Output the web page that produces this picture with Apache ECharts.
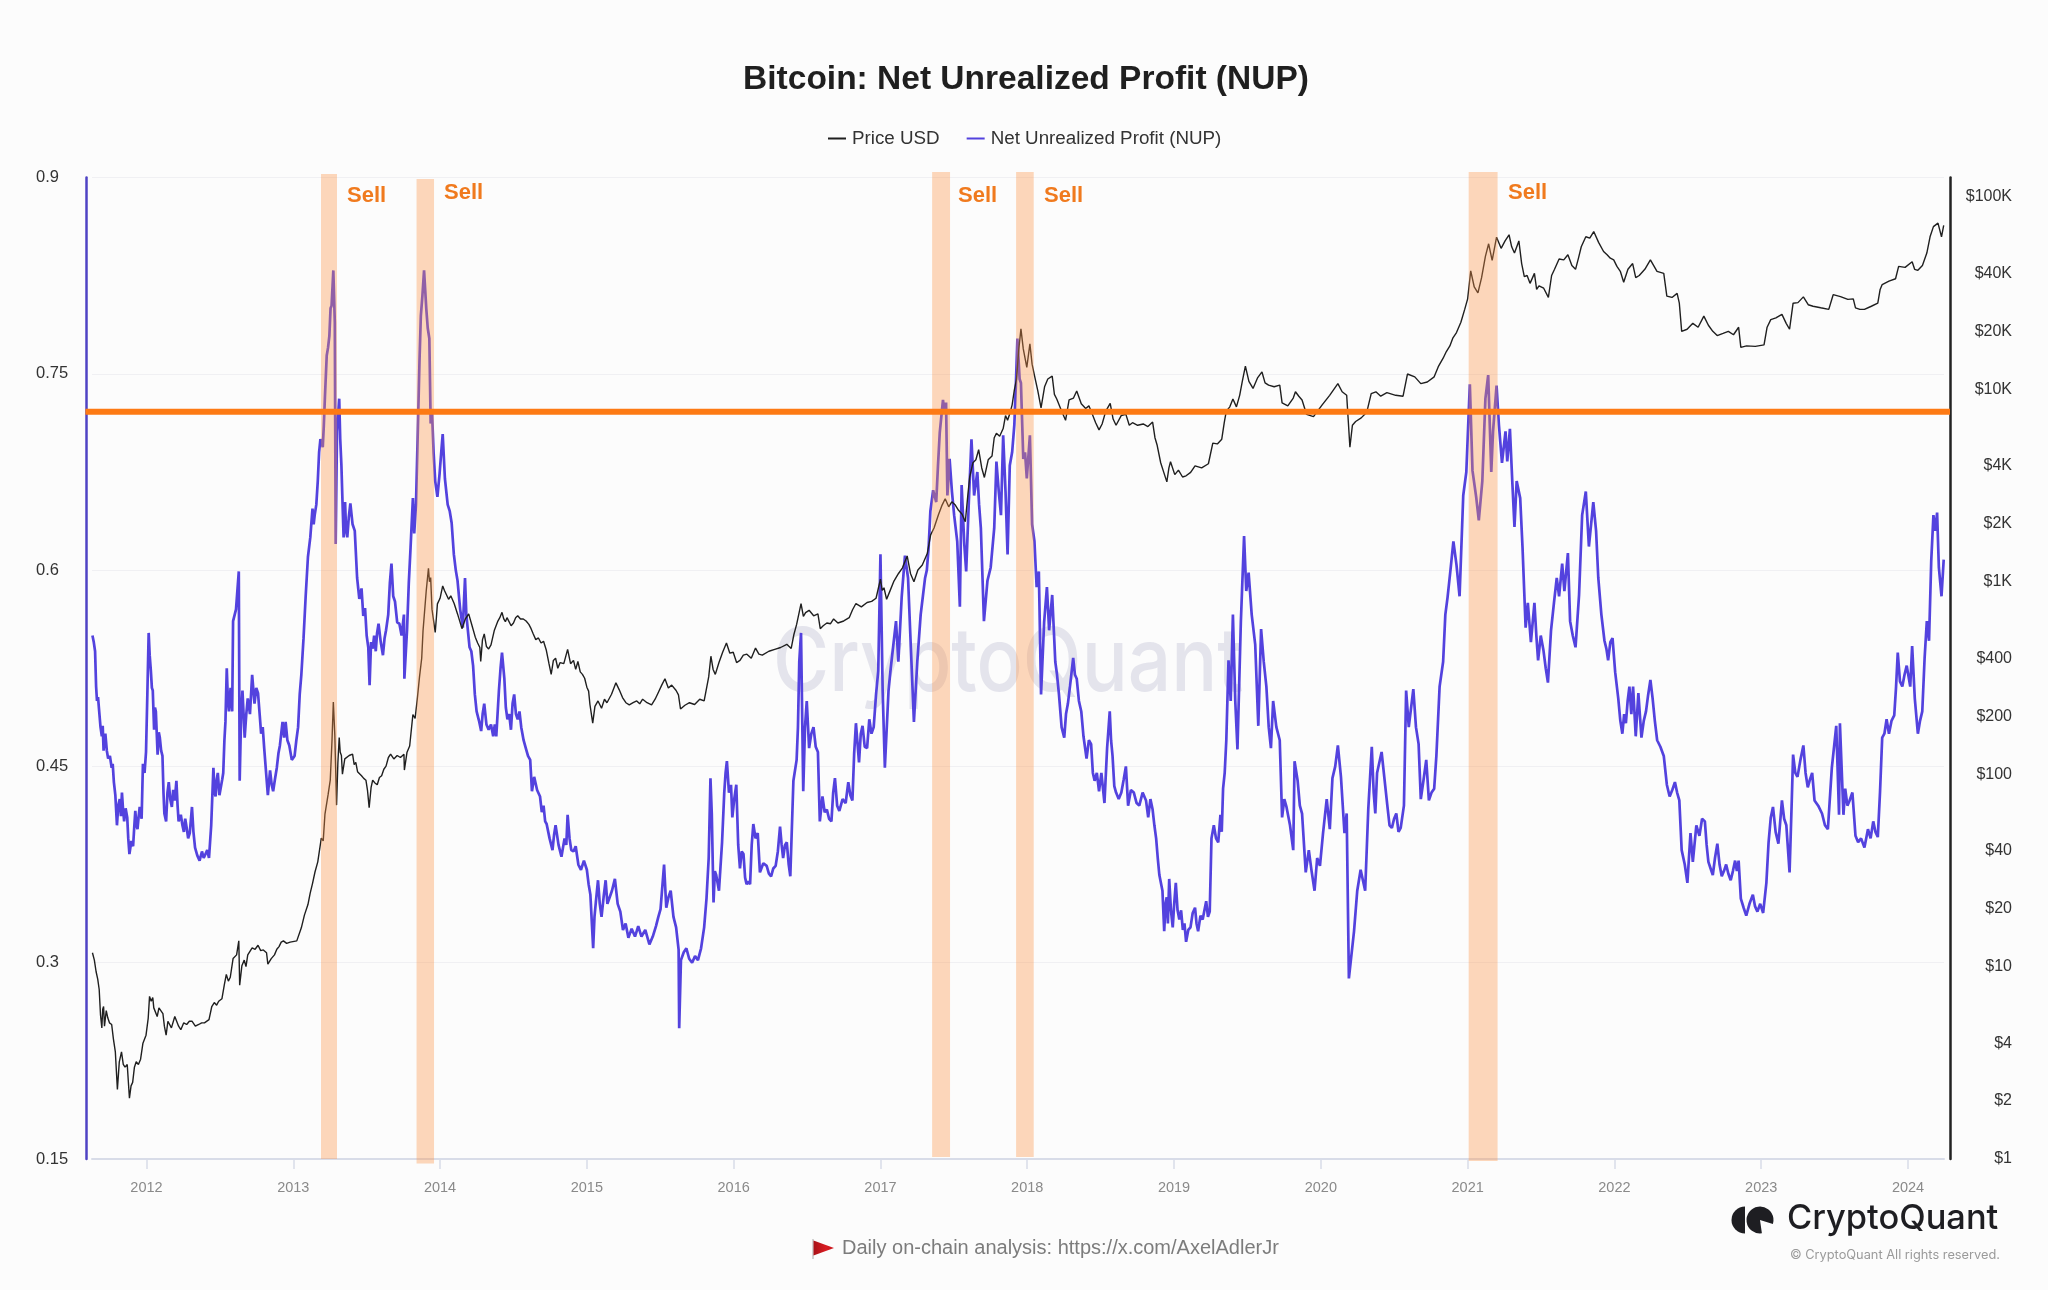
<!DOCTYPE html>
<html>
<head>
<meta charset="utf-8">
<title>Bitcoin: Net Unrealized Profit (NUP)</title>
<script src="https://cdn.jsdelivr.net/npm/echarts@6/dist/echarts.min.js"></script>
<style>
html, body { margin: 0; padding: 0; background: #fcfcfc; }
#chart { width: 2048px; height: 1290px; }
</style>
</head>
<body>
<div id="chart"></div>
<script>
// [decimal year, NUP ratio]
var nupPoints = [
[2011.632,.55],[2011.641,.545],[2011.650,.538],[2011.657,.511],[2011.663,.5],[2011.670,.503],[2011.678,.492],[2011.687,.48],[2011.696,.473],[2011.702,.481],[2011.708,.462],[2011.714,.47],[2011.720,.475],[2011.730,.462],[2011.739,.456],[2011.751,.458],[2011.763,.449],[2011.770,.452],[2011.778,.438],[2011.788,.428],[2011.799,.405],[2011.808,.42],[2011.818,.425],[2011.826,.412],[2011.833,.43],[2011.840,.418],[2011.848,.408],[2011.858,.418],[2011.869,.411],[2011.876,.395],[2011.884,.383],[2011.897,.393],[2011.909,.389],[2011.917,.404],[2011.924,.416],[2011.932,.405],[2011.939,.402],[2011.947,.412],[2011.954,.419],[2011.967,.41],[2011.976,.452],[2011.987,.445],[2011.997,.461],[2012.006,.505],[2012.015,.552],[2012.022,.535],[2012.030,.523],[2012.037,.51],[2012.043,.508],[2012.052,.478],[2012.058,.495],[2012.064,.492],[2012.076,.459],[2012.084,.476],[2012.091,.472],[2012.100,.462],[2012.109,.458],[2012.116,.43],[2012.122,.414],[2012.134,.408],[2012.143,.43],[2012.152,.438],[2012.162,.425],[2012.173,.419],[2012.182,.432],[2012.193,.424],[2012.204,.439],[2012.212,.42],[2012.219,.408],[2012.234,.413],[2012.245,.405],[2012.255,.40],[2012.264,.41],[2012.274,.403],[2012.284,.395],[2012.295,.399],[2012.310,.419],[2012.320,.4],[2012.331,.388],[2012.346,.382],[2012.362,.378],[2012.378,.385],[2012.390,.38],[2012.401,.381],[2012.414,.386],[2012.426,.38],[2012.441,.405],[2012.456,.449],[2012.464,.43],[2012.471,.427],[2012.479,.44],[2012.486,.445],[2012.497,.428],[2012.508,.427],[2012.516,.44],[2012.523,.445],[2012.531,.47],[2012.538,.484],[2012.547,.525],[2012.555,.5],[2012.562,.492],[2012.573,.51],[2012.584,.492],[2012.590,.561],[2012.610,.57],[2012.629,.599],[2012.635,.439],[2012.645,.49],[2012.654,.508],[2012.669,.472],[2012.680,.49],[2012.690,.502],[2012.705,.49],[2012.720,.52],[2012.736,.498],[2012.748,.51],[2012.760,.506],[2012.771,.49],[2012.781,.475],[2012.792,.48],[2012.802,.464],[2012.815,.445],[2012.827,.428],[2012.842,.447],[2012.853,.436],[2012.863,.431],[2012.875,.44],[2012.888,.449],[2012.899,.46],[2012.909,.466],[2012.918,.475],[2012.927,.484],[2012.938,.472],[2012.948,.484],[2012.960,.47],[2012.973,.466],[2012.990,.455],[2013.009,.458],[2013.021,.47],[2013.033,.48],[2013.044,.505],[2013.055,.52],[2013.070,.548],[2013.085,.581],[2013.100,.61],[2013.116,.625],[2013.131,.647],[2013.139,.635],[2013.146,.642],[2013.157,.65],[2013.167,.668],[2013.176,.69],[2013.185,.70],[2013.201,.694],[2013.208,.71],[2013.216,.733],[2013.228,.764],[2013.237,.77],[2013.246,.779],[2013.254,.80],[2013.261,.802],[2013.273,.829],[2013.283,.789],[2013.289,.62],[2013.298,.706],[2013.313,.731],[2013.320,.70],[2013.328,.68],[2013.336,.65],[2013.343,.625],[2013.353,.652],[2013.360,.63],[2013.368,.625],[2013.378,.64],[2013.389,.651],[2013.404,.635],[2013.419,.63],[2013.435,.594],[2013.450,.578],[2013.465,.586],[2013.477,.565],[2013.489,.571],[2013.500,.55],[2013.511,.541],[2013.520,.512],[2013.530,.545],[2013.541,.54],[2013.551,.55],[2013.562,.538],[2013.571,.552],[2013.581,.559],[2013.596,.545],[2013.611,.535],[2013.622,.548],[2013.632,.554],[2013.647,.566],[2013.658,.59],[2013.669,.605],[2013.681,.58],[2013.693,.576],[2013.708,.56],[2013.723,.559],[2013.738,.55],[2013.754,.566],[2013.757,.517],[2013.775,.554],[2013.787,.59],[2013.799,.617],[2013.815,.655],[2013.824,.628],[2013.836,.65],[2013.851,.718],[2013.860,.76],[2013.869,.794],[2013.880,.81],[2013.891,.829],[2013.906,.80],[2013.916,.785],[2013.927,.777],[2013.936,.712],[2013.945,.721],[2013.956,.69],[2013.967,.668],[2013.982,.656],[2013.997,.674],[2014.008,.69],[2014.018,.704],[2014.033,.67],[2014.052,.65],[2014.066,.645],[2014.079,.636],[2014.094,.612],[2014.107,.60],[2014.119,.592],[2014.137,.57],[2014.155,.556],[2014.170,.594],[2014.179,.566],[2014.201,.541],[2014.213,.538],[2014.225,.527],[2014.237,.505],[2014.249,.492],[2014.265,.485],[2014.280,.477],[2014.290,.49],[2014.301,.498],[2014.316,.482],[2014.331,.478],[2014.347,.482],[2014.362,.473],[2014.373,.482],[2014.383,.473],[2014.401,.508],[2014.412,.525],[2014.422,.537],[2014.438,.517],[2014.448,.495],[2014.459,.486],[2014.471,.49],[2014.483,.478],[2014.494,.498],[2014.505,.505],[2014.517,.49],[2014.529,.486],[2014.541,.492],[2014.553,.48],[2014.569,.47],[2014.584,.464],[2014.599,.458],[2014.614,.455],[2014.626,.431],[2014.641,.442],[2014.661,.432],[2014.681,.427],[2014.693,.415],[2014.705,.42],[2014.716,.408],[2014.726,.406],[2014.746,.395],[2014.766,.386],[2014.777,.398],[2014.787,.405],[2014.807,.39],[2014.827,.381],[2014.848,.395],[2014.860,.39],[2014.869,.413],[2014.882,.395],[2014.894,.386],[2014.909,.385],[2014.924,.389],[2014.942,.375],[2014.960,.371],[2014.980,.378],[2015.0,.371],[2015.012,.36],[2015.024,.352],[2015.043,.311],[2015.052,.335],[2015.061,.346],[2015.076,.363],[2015.088,.345],[2015.100,.335],[2015.114,.35],[2015.128,.363],[2015.140,.345],[2015.152,.346],[2015.171,.355],[2015.191,.364],[2015.210,.345],[2015.228,.339],[2015.246,.325],[2015.264,.33],[2015.283,.319],[2015.305,.326],[2015.328,.32],[2015.350,.328],[2015.372,.32],[2015.398,.325],[2015.426,.314],[2015.449,.32],[2015.471,.328],[2015.487,.335],[2015.502,.341],[2015.526,.375],[2015.541,.342],[2015.556,.35],[2015.571,.355],[2015.590,.335],[2015.608,.327],[2015.625,.31],[2015.629,.25],[2015.641,.302],[2015.660,.308],[2015.678,.311],[2015.697,.303],[2015.717,.30],[2015.737,.305],[2015.757,.302],[2015.778,.311],[2015.799,.327],[2015.815,.349],[2015.830,.38],[2015.842,.441],[2015.851,.414],[2015.863,.346],[2015.872,.37],[2015.881,.367],[2015.900,.355],[2015.921,.392],[2015.936,.43],[2015.945,.445],[2015.954,.454],[2015.968,.43],[2015.982,.436],[2015.991,.411],[2016.004,.425],[2016.018,.436],[2016.031,.39],[2016.043,.372],[2016.055,.385],[2016.067,.383],[2016.078,.365],[2016.088,.36],[2016.100,.362],[2016.112,.36],[2016.123,.39],[2016.134,.406],[2016.149,.395],[2016.164,.399],[2016.179,.369],[2016.202,.376],[2016.225,.374],[2016.240,.368],[2016.255,.366],[2016.270,.372],[2016.286,.374],[2016.301,.385],[2016.316,.404],[2016.327,.39],[2016.337,.38],[2016.350,.39],[2016.362,.392],[2016.375,.375],[2016.386,.366],[2016.407,.439],[2016.429,.455],[2016.438,.48],[2016.447,.53],[2016.459,.552],[2016.474,.431],[2016.486,.48],[2016.498,.5],[2016.514,.464],[2016.529,.475],[2016.544,.48],[2016.559,.465],[2016.574,.461],[2016.587,.408],[2016.605,.427],[2016.620,.415],[2016.635,.417],[2016.650,.41],[2016.666,.408],[2016.678,.43],[2016.690,.441],[2016.705,.42],[2016.720,.416],[2016.742,.425],[2016.763,.422],[2016.781,.438],[2016.795,.428],[2016.809,.424],[2016.821,.46],[2016.833,.483],[2016.854,.453],[2016.866,.475],[2016.878,.481],[2016.893,.465],[2016.909,.464],[2016.924,.486],[2016.939,.475],[2016.954,.48],[2016.970,.505],[2016.985,.523],[2017.0,.612],[2017.015,.508],[2017.030,.449],[2017.055,.508],[2017.070,.525],[2017.085,.54],[2017.106,.561],[2017.122,.53],[2017.145,.58],[2017.167,.611],[2017.188,.594],[2017.207,.541],[2017.228,.484],[2017.251,.53],[2017.274,.566],[2017.289,.58],[2017.304,.594],[2017.316,.60],[2017.328,.617],[2017.340,.645],[2017.359,.661],[2017.380,.652],[2017.392,.68],[2017.404,.705],[2017.426,.73],[2017.437,.72],[2017.447,.728],[2017.456,.657],[2017.471,.685],[2017.487,.66],[2017.502,.642],[2017.523,.622],[2017.541,.572],[2017.553,.665],[2017.571,.62],[2017.584,.599],[2017.602,.652],[2017.620,.70],[2017.638,.657],[2017.660,.675],[2017.672,.65],[2017.684,.632],[2017.705,.561],[2017.729,.592],[2017.751,.602],[2017.775,.632],[2017.790,.683],[2017.806,.66],[2017.821,.642],[2017.836,.703],[2017.852,.66],[2017.866,.612],[2017.881,.68],[2017.897,.69],[2017.912,.711],[2017.922,.74],[2017.933,.777],[2017.948,.746],[2017.957,.743],[2017.973,.685],[2017.985,.69],[2017.997,.67],[2018.018,.703],[2018.033,.635],[2018.049,.622],[2018.064,.587],[2018.079,.599],[2018.094,.505],[2018.115,.56],[2018.134,.587],[2018.149,.554],[2018.170,.581],[2018.191,.53],[2018.203,.52],[2018.216,.505],[2018.234,.48],[2018.252,.472],[2018.264,.49],[2018.277,.498],[2018.295,.515],[2018.313,.533],[2018.325,.52],[2018.337,.517],[2018.352,.50],[2018.368,.492],[2018.383,.473],[2018.404,.456],[2018.420,.47],[2018.435,.467],[2018.447,.445],[2018.459,.439],[2018.474,.445],[2018.489,.431],[2018.505,.445],[2018.526,.422],[2018.544,.464],[2018.562,.492],[2018.571,.47],[2018.581,.458],[2018.593,.435],[2018.605,.43],[2018.623,.425],[2018.641,.43],[2018.657,.44],[2018.672,.45],[2018.687,.42],[2018.706,.432],[2018.726,.43],[2018.745,.422],[2018.763,.42],[2018.786,.43],[2018.809,.424],[2018.824,.411],[2018.839,.425],[2018.854,.417],[2018.866,.405],[2018.878,.395],[2018.889,.38],[2018.900,.367],[2018.921,.355],[2018.933,.324],[2018.942,.345],[2018.950,.35],[2018.958,.33],[2018.967,.364],[2018.979,.34],[2018.991,.327],[2019.001,.345],[2019.012,.361],[2019.024,.34],[2019.036,.333],[2019.048,.34],[2019.060,.325],[2019.071,.33],[2019.082,.316],[2019.097,.325],[2019.112,.327],[2019.127,.338],[2019.143,.342],[2019.153,.33],[2019.164,.324],[2019.180,.336],[2019.195,.333],[2019.207,.34],[2019.219,.347],[2019.231,.335],[2019.243,.339],[2019.255,.395],[2019.271,.405],[2019.286,.395],[2019.301,.392],[2019.316,.413],[2019.325,.40],[2019.334,.433],[2019.345,.445],[2019.356,.47],[2019.371,.531],[2019.386,.50],[2019.401,.566],[2019.417,.50],[2019.432,.463],[2019.455,.56],[2019.477,.626],[2019.492,.584],[2019.508,.598],[2019.529,.566],[2019.553,.543],[2019.574,.481],[2019.593,.555],[2019.611,.53],[2019.629,.511],[2019.645,.48],[2019.660,.464],[2019.675,.5],[2019.697,.48],[2019.720,.47],[2019.736,.411],[2019.751,.425],[2019.766,.419],[2019.790,.405],[2019.812,.386],[2019.821,.454],[2019.842,.439],[2019.857,.42],[2019.872,.414],[2019.897,.369],[2019.918,.386],[2019.937,.37],[2019.957,.355],[2019.975,.38],[2019.994,.374],[2020.015,.399],[2020.040,.425],[2020.061,.402],[2020.079,.441],[2020.098,.45],[2020.116,.466],[2020.137,.442],[2020.161,.399],[2020.176,.414],[2020.191,.288],[2020.226,.324],[2020.248,.355],[2020.271,.371],[2020.302,.355],[2020.323,.417],[2020.347,.465],[2020.360,.43],[2020.371,.414],[2020.383,.445],[2020.414,.461],[2020.432,.442],[2020.453,.42],[2020.468,.405],[2020.484,.403],[2020.499,.41],[2020.514,.414],[2020.529,.40],[2020.544,.403],[2020.566,.42],[2020.581,.508],[2020.599,.48],[2020.630,.509],[2020.648,.48],[2020.666,.467],[2020.681,.425],[2020.700,.44],[2020.718,.455],[2020.736,.424],[2020.754,.43],[2020.772,.433],[2020.787,.458],[2020.809,.511],[2020.833,.53],[2020.848,.566],[2020.863,.579],[2020.883,.60],[2020.903,.622],[2020.924,.604],[2020.945,.58],[2020.970,.657],[2020.991,.675],[2021.015,.742],[2021.033,.676],[2021.058,.656],[2021.076,.638],[2021.100,.668],[2021.121,.731],[2021.140,.749],[2021.161,.675],[2021.173,.706],[2021.197,.741],[2021.213,.711],[2021.234,.682],[2021.258,.706],[2021.270,.683],[2021.288,.708],[2021.304,.668],[2021.319,.633],[2021.334,.668],[2021.358,.655],[2021.374,.617],[2021.395,.556],[2021.410,.575],[2021.431,.545],[2021.455,.575],[2021.468,.55],[2021.480,.531],[2021.498,.55],[2021.516,.539],[2021.532,.525],[2021.547,.514],[2021.568,.554],[2021.588,.575],[2021.607,.594],[2021.623,.58],[2021.644,.605],[2021.659,.584],[2021.683,.613],[2021.698,.561],[2021.716,.55],[2021.735,.541],[2021.759,.581],[2021.780,.642],[2021.805,.66],[2021.826,.618],[2021.856,.652],[2021.875,.63],[2021.890,.594],[2021.911,.566],[2021.932,.546],[2021.945,.54],[2021.957,.531],[2021.972,.545],[2021.987,.548],[2022.005,.522],[2022.026,.502],[2022.040,.485],[2022.054,.475],[2022.066,.49],[2022.078,.483],[2022.090,.50],[2022.102,.511],[2022.115,.49],[2022.127,.511],[2022.145,.473],[2022.163,.506],[2022.184,.472],[2022.200,.485],[2022.215,.492],[2022.230,.505],[2022.245,.516],[2022.260,.502],[2022.275,.485],[2022.291,.47],[2022.313,.465],[2022.336,.458],[2022.357,.436],[2022.376,.427],[2022.394,.432],[2022.412,.438],[2022.427,.43],[2022.442,.424],[2022.458,.386],[2022.479,.375],[2022.497,.361],[2022.518,.399],[2022.534,.377],[2022.558,.405],[2022.579,.397],[2022.597,.41],[2022.616,.408],[2022.628,.39],[2022.640,.377],[2022.655,.372],[2022.670,.367],[2022.685,.38],[2022.701,.391],[2022.716,.375],[2022.731,.366],[2022.746,.37],[2022.761,.375],[2022.776,.368],[2022.792,.363],[2022.807,.37],[2022.822,.378],[2022.834,.37],[2022.846,.378],[2022.861,.349],[2022.880,.342],[2022.898,.336],[2022.920,.345],[2022.943,.352],[2022.958,.343],[2022.974,.339],[2022.993,.345],[2023.013,.338],[2023.035,.361],[2023.050,.392],[2023.065,.411],[2023.080,.419],[2023.098,.40],[2023.117,.391],[2023.141,.424],[2023.156,.41],[2023.171,.405],[2023.193,.369],[2023.208,.424],[2023.217,.459],[2023.232,.445],[2023.247,.442],[2023.267,.455],[2023.287,.466],[2023.302,.445],[2023.317,.434],[2023.332,.44],[2023.347,.445],[2023.363,.424],[2023.388,.42],[2023.414,.414],[2023.434,.405],[2023.454,.402],[2023.481,.449],[2023.496,.465],[2023.511,.481],[2023.530,.413],[2023.536,.483],[2023.560,.413],[2023.572,.433],[2023.587,.42],[2023.602,.424],[2023.621,.43],[2023.642,.397],[2023.660,.392],[2023.680,.395],[2023.703,.388],[2023.727,.402],[2023.745,.395],[2023.763,.408],[2023.778,.40],[2023.794,.396],[2023.809,.43],[2023.824,.472],[2023.839,.475],[2023.854,.486],[2023.870,.475],[2023.888,.485],[2023.906,.489],[2023.918,.51],[2023.930,.537],[2023.945,.515],[2023.961,.511],[2023.976,.52],[2023.991,.527],[2024.015,.511],[2024.028,.542],[2024.046,.502],[2024.067,.475],[2024.082,.485],[2024.097,.492],[2024.113,.533],[2024.128,.561],[2024.143,.546],[2024.158,.607],[2024.173,.642],[2024.186,.63],[2024.198,.644],[2024.210,.602],[2024.228,.58],[2024.243,.608]
];
// [decimal year, USD]
var pricePoints = [
[2011.632,11.8],[2011.645,10.8],[2011.657,9.4],[2011.668,8.6],[2011.678,7.6],[2011.687,5.6],[2011.696,4.8],[2011.702,6],[2011.708,6.2],[2011.714,4.9],[2011.726,5.9],[2011.737,5.4],[2011.748,5.1],[2011.763,5.0],[2011.775,4.2],[2011.788,3.6],[2011.802,2.3],[2011.815,3.2],[2011.830,3.6],[2011.842,3.1],[2011.854,3.0],[2011.869,3.1],[2011.884,2.07],[2011.895,2.4],[2011.906,2.5],[2011.918,3],[2011.930,3.2],[2011.945,3.1],[2011.960,3.3],[2011.976,4.0],[2011.997,4.4],[2012.012,5.4],[2012.021,7.0],[2012.032,6.6],[2012.043,6.9],[2012.050,6.1],[2012.058,6.2],[2012.073,5.5],[2012.085,6.1],[2012.097,6.0],[2012.112,5.7],[2012.122,4.9],[2012.134,4.4],[2012.146,5.2],[2012.158,5.0],[2012.170,4.8],[2012.182,4.9],[2012.193,5.5],[2012.204,5.4],[2012.219,4.9],[2012.234,4.7],[2012.254,5.1],[2012.274,5.0],[2012.292,5.2],[2012.310,5.2],[2012.333,4.9],[2012.356,5.0],[2012.376,5.1],[2012.395,5.1],[2012.426,5.3],[2012.445,6.2],[2012.462,6.5],[2012.478,6.3],[2012.492,6.6],[2012.514,6.8],[2012.530,8],[2012.544,9.1],[2012.558,8.4],[2012.571,8.8],[2012.590,11],[2012.614,11.5],[2012.629,13.6],[2012.635,8],[2012.650,10.1],[2012.666,10.8],[2012.678,10],[2012.690,11.5],[2012.705,12],[2012.720,12.5],[2012.740,12.3],[2012.760,12.9],[2012.778,12.1],[2012.796,12.2],[2012.818,11.8],[2012.827,10.3],[2012.850,11],[2012.872,11.5],[2012.888,12.3],[2012.903,12.7],[2012.918,13.4],[2012.933,13.6],[2012.955,13.2],[2012.979,13.4],[2013.024,13.6],[2013.055,15.9],[2013.076,18.5],[2013.100,21],[2013.115,24],[2013.131,27],[2013.148,31],[2013.167,35],[2013.191,46.5],[2013.204,45],[2013.216,62],[2013.237,78],[2013.252,93],[2013.264,150],[2013.273,237],[2013.283,160],[2013.295,69],[2013.304,115],[2013.313,155],[2013.320,130],[2013.328,125],[2013.335,100],[2013.343,102],[2013.351,120],[2013.359,118],[2013.381,125],[2013.404,127],[2013.415,112],[2013.426,115],[2013.438,103],[2013.450,105],[2013.465,98],[2013.480,95],[2013.495,93],[2013.506,82],[2013.517,67],[2013.530,85],[2013.541,93],[2013.556,90],[2013.572,88],[2013.587,96],[2013.602,98],[2013.617,106],[2013.632,110],[2013.648,122],[2013.663,127],[2013.685,120],[2013.708,125],[2013.730,122],[2013.754,127],[2013.757,105],[2013.775,130],[2013.793,140],[2013.815,204],[2013.830,195],[2013.845,246],[2013.860,320],[2013.875,400],[2013.884,555],[2013.906,900],[2013.921,1175],[2013.928,1000],[2013.936,1050],[2013.945,720],[2013.967,545],[2013.975,650],[2013.982,767],[2014.000,820],[2014.018,950],[2014.030,900],[2014.043,880],[2014.058,810],[2014.073,845],[2014.096,770],[2014.119,680],[2014.135,620],[2014.149,570],[2014.172,640],[2014.195,680],[2014.218,590],[2014.240,515],[2014.256,480],[2014.271,455],[2014.277,385],[2014.289,500],[2014.301,535],[2014.316,460],[2014.331,447],[2014.347,470],[2014.370,560],[2014.392,620],[2014.407,650],[2014.422,693],[2014.434,640],[2014.445,620],[2014.456,650],[2014.468,640],[2014.484,590],[2014.500,610],[2014.515,650],[2014.529,665],[2014.548,640],[2014.567,640],[2014.586,625],[2014.605,600],[2014.620,570],[2014.635,535],[2014.652,500],[2014.670,510],[2014.688,480],[2014.705,490],[2014.724,440],[2014.742,375],[2014.757,330],[2014.772,390],[2014.787,400],[2014.802,355],[2014.818,380],[2014.843,375],[2014.869,445],[2014.889,375],[2014.909,390],[2014.924,350],[2014.939,385],[2014.955,340],[2014.970,330],[2014.985,315],[2015.0,283],[2015.012,270],[2015.021,230],[2015.040,184],[2015.055,225],[2015.076,240],[2015.100,220],[2015.120,245],[2015.137,235],[2015.168,260],[2015.198,298],[2015.220,275],[2015.243,250],[2015.266,235],[2015.289,229],[2015.315,235],[2015.340,240],[2015.360,232],[2015.380,245],[2015.410,235],[2015.441,229],[2015.465,245],[2015.486,265],[2015.510,290],[2015.532,313],[2015.555,280],[2015.578,290],[2015.608,272],[2015.624,258],[2015.638,218],[2015.668,228],[2015.699,235],[2015.734,230],[2015.769,245],[2015.799,240],[2015.830,320],[2015.845,410],[2015.860,350],[2015.875,330],[2015.900,380],[2015.925,430],[2015.951,480],[2015.974,425],[2015.997,430],[2016.020,380],[2016.043,390],[2016.066,415],[2016.090,420],[2016.120,400],[2016.149,452],[2016.172,420],[2016.195,415],[2016.240,435],[2016.280,445],[2016.320,455],[2016.362,473],[2016.392,450],[2016.410,530],[2016.429,600],[2016.459,770],[2016.475,660],[2016.490,690],[2016.514,710],[2016.545,665],[2016.574,680],[2016.590,570],[2016.610,590],[2016.635,610],[2016.660,605],[2016.681,640],[2016.710,610],[2016.750,625],[2016.787,650],[2016.810,715],[2016.833,770],[2016.870,740],[2016.909,780],[2016.940,790],[2016.970,820],[2017.0,1030],[2017.012,900],[2017.024,930],[2017.042,810],[2017.061,880],[2017.090,1000],[2017.122,1100],[2017.150,1180],[2017.182,1360],[2017.205,1100],[2017.228,1000],[2017.255,1150],[2017.285,1220],[2017.319,1400],[2017.342,1750],[2017.365,1900],[2017.395,2230],[2017.420,2500],[2017.441,2700],[2017.465,2450],[2017.486,2600],[2017.510,2500],[2017.532,2350],[2017.555,2250],[2017.578,2050],[2017.595,2800],[2017.608,3500],[2017.630,4150],[2017.650,4300],[2017.669,4850],[2017.690,3900],[2017.708,3480],[2017.734,4300],[2017.760,4500],[2017.775,5600],[2017.790,5900],[2017.812,5700],[2017.836,6250],[2017.852,7300],[2017.866,6900],[2017.882,7500],[2017.897,8300],[2017.912,9900],[2017.927,11300],[2017.942,16000],[2017.957,20600],[2017.973,16200],[2017.985,14500],[2017.997,13000],[2018.018,17200],[2018.033,13500],[2018.049,11800],[2018.072,9800],[2018.094,8000],[2018.118,10300],[2018.140,11300],[2018.170,11700],[2018.185,9400],[2018.201,8900],[2018.231,7800],[2018.261,6900],[2018.285,8800],[2018.315,9000],[2018.337,9800],[2018.368,8400],[2018.398,7950],[2018.420,8200],[2018.444,7400],[2018.466,6700],[2018.489,6150],[2018.510,6600],[2018.535,7700],[2018.565,8450],[2018.585,7000],[2018.605,6500],[2018.640,7300],[2018.672,7400],[2018.695,6500],[2018.717,6700],[2018.752,6500],[2018.790,6600],[2018.822,6400],[2018.854,6750],[2018.870,5600],[2018.884,5150],[2018.909,4150],[2018.930,3700],[2018.951,3300],[2018.965,3900],[2018.976,4200],[2019.005,3600],[2019.030,3800],[2019.058,3500],[2019.082,3550],[2019.113,3700],[2019.143,4000],[2019.188,3900],[2019.234,4100],[2019.264,5250],[2019.295,5200],[2019.325,5500],[2019.342,6700],[2019.356,7700],[2019.380,8100],[2019.401,8900],[2019.425,8100],[2019.447,9300],[2019.465,11000],[2019.486,13200],[2019.510,11000],[2019.538,10100],[2019.570,11500],[2019.599,12300],[2019.620,10800],[2019.644,10500],[2019.682,10300],[2019.720,10500],[2019.736,8500],[2019.775,8200],[2019.812,9000],[2019.827,9700],[2019.850,9200],[2019.872,8800],[2019.903,7400],[2019.950,7200],[2020.009,8300],[2020.060,9300],[2020.116,10700],[2020.145,9700],[2020.176,9300],[2020.198,5000],[2020.215,6500],[2020.237,6800],[2020.275,7100],[2020.313,7600],[2020.343,9500],[2020.375,9700],[2020.408,9200],[2020.450,9600],[2020.510,9300],[2020.560,9200],[2020.590,12000],[2020.640,11600],[2020.681,10700],[2020.725,10900],[2020.772,11600],[2020.800,13100],[2020.833,14500],[2020.855,15700],[2020.879,16800],[2020.900,18500],[2020.924,19700],[2020.954,22300],[2020.980,26000],[2021.0,29500],[2021.021,41200],[2021.045,34000],[2021.070,31700],[2021.095,38000],[2021.121,49000],[2021.143,57000],[2021.167,46800],[2021.197,61700],[2021.228,54000],[2021.255,59000],[2021.282,63500],[2021.300,55000],[2021.319,51000],[2021.349,59000],[2021.368,45000],[2021.386,38500],[2021.405,39000],[2021.425,35500],[2021.455,40000],[2021.470,33000],[2021.486,34500],[2021.518,33500],[2021.550,30000],[2021.572,39000],[2021.592,42000],[2021.623,47500],[2021.655,47000],[2021.683,50000],[2021.710,44000],[2021.735,42000],[2021.755,48000],[2021.774,55000],[2021.805,62000],[2021.832,61000],[2021.859,66000],[2021.892,58000],[2021.926,52000],[2021.950,50000],[2021.972,48000],[2021.995,47000],[2022.017,43500],[2022.040,41000],[2022.063,36000],[2022.092,42000],[2022.124,45000],[2022.145,38000],[2022.169,39000],[2022.207,42000],[2022.245,47000],[2022.290,41000],[2022.336,40000],[2022.357,30500],[2022.392,30000],[2022.427,31500],[2022.442,28000],[2022.458,20000],[2022.495,20500],[2022.534,22000],[2022.570,21000],[2022.609,24000],[2022.640,21500],[2022.670,20000],[2022.700,19000],[2022.740,19500],[2022.776,20000],[2022.811,19200],[2022.846,21000],[2022.861,16500],[2022.900,16800],[2022.960,16700],[2023.019,17000],[2023.040,21000],[2023.065,23000],[2023.100,23500],[2023.141,24500],[2023.170,22000],[2023.193,20500],[2023.217,28000],[2023.250,28200],[2023.287,30200],[2023.320,27500],[2023.353,27000],[2023.405,26500],[2023.460,26000],[2023.490,31000],[2023.540,30300],[2023.590,29300],[2023.627,29500],[2023.642,26500],[2023.672,26000],[2023.703,26000],[2023.750,27000],[2023.794,28000],[2023.810,33000],[2023.824,35000],[2023.870,36500],[2023.915,37500],[2023.936,43500],[2023.980,43000],[2024.028,46000],[2024.045,42000],[2024.067,41500],[2024.098,44000],[2024.128,51000],[2024.150,62000],[2024.173,70000],[2024.204,73000],[2024.228,62000],[2024.243,71000]
];
var yearTicks = [2012, 2013, 2014, 2015, 2016, 2017, 2018, 2019, 2020, 2021, 2022, 2023, 2024];
var priceTicks = [1, 2, 4, 10, 20, 40, 100, 200, 400, 1000, 2000, 4000, 10000, 20000, 40000, 100000];
// [from year, to year, top, bottom] - the drawn bands overrun the plot a little
var sellBands = [
    [2013.189, 2013.298, 0.9027, 0.15],
    [2013.840, 2013.959, 0.8989, 0.1466],
    [2017.352, 2017.474, 0.9042, 0.1515],
    [2017.924, 2018.044, 0.9042, 0.1515],
    [2021.007, 2021.204, 0.9042, 0.1485]
];
var sellLevel = 0.721;

function priceLabel(value) {
    return value >= 1000 ? '$' + (value / 1000) + 'K' : '$' + value;
}

function sellText(x, y) {
    return {
        type: 'text', z: 20, silent: true,
        style: { x: x, y: y, text: 'Sell', fill: '#f07a1e', font: 'bold 22px "Liberation Sans"', textVerticalAlign: 'middle' }
    };
}

var myChart = echarts.init(document.getElementById('chart'));
var option = {
    animation: false,
    backgroundColor: '#fcfcfc',
    textStyle: { fontFamily: '"Liberation Sans"' },
    title: {
        text: 'Bitcoin: Net Unrealized Profit (NUP)',
        left: 1021, top: 58, textAlign: 'center',
        textStyle: { color: '#1f1f1f', fontSize: 33.5, fontWeight: 'bold', fontFamily: '"Liberation Sans"' }
    },
    legend: {
        data: ['Price USD', 'Net Unrealized Profit (NUP)'],
        left: 823, top: 124, itemWidth: 18, itemHeight: 2, itemGap: 27, icon: 'rect',
        textStyle: { color: '#333', fontSize: 18.8, padding: [0, 0, 0, 1] }
    },
    grid: { left: 92, right: 104, top: 177.5, bottom: 131, outerBoundsMode: 'none' },
    xAxis: {
        type: 'value', min: 2011.629, max: 2024.245,
        axisLine: { onZero: false, lineStyle: { color: '#d8dce8', width: 2 } },
        axisTick: { length: 10, customValues: yearTicks, lineStyle: { color: '#d8dce8', width: 1.5 } },
        axisLabel: { customValues: yearTicks, margin: 21, color: '#8a8a8a', fontSize: 14.5, formatter: function(v) { return String(v); } },
        splitLine: { show: false }
    },
    yAxis: [{
        type: 'value', min: 0.15, max: 0.9, interval: 0.15, position: 'left', offset: 6,
        axisLine: { show: true, lineStyle: { color: '#4f43c4', width: 2.5 } },
        axisTick: { show: false },
        axisLabel: { align: 'left', margin: 50, color: '#333', fontSize: 16.5, padding: [2, 0, 0, 0], formatter: function(v) { return String(+v.toFixed(2)); } },
        splitLine: { lineStyle: { color: '#f0f0f3', width: 1 } }
    }, {
        type: 'log', logBase: 10, min: 1, max: 126000, position: 'right', offset: 6,
        axisLine: { show: true, lineStyle: { color: '#222', width: 2.5 } },
        axisTick: { show: false },
        axisLabel: { customValues: priceTicks, align: 'right', margin: 62, color: '#333', fontSize: 16, padding: [2, 0, 0, 0], formatter: priceLabel },
        splitLine: { show: false }
    }],
    series: [{
        name: 'Net Unrealized Profit (NUP)', type: 'line', yAxisIndex: 0, z: 2,
        data: nupPoints, showSymbol: false, symbol: 'none',
        itemStyle: { color: '#5342de' }, lineStyle: { color: '#5342de', width: 2.7 }
    }, {
        name: 'Price USD', type: 'line', yAxisIndex: 1, z: 3,
        data: pricePoints, showSymbol: false, symbol: 'none',
        itemStyle: { color: '#1f1f1f' }, lineStyle: { color: '#1f1f1f', width: 1.4 }
    }, {
        // 卖出区间
        type: 'custom', yAxisIndex: 0, z: 5, silent: true, clip: false,
        data: sellBands,
        encode: { x: [0, 1], y: [2, 3] },
        renderItem: function(params, api) {
            var a = api.coord([api.value(0), api.value(2)]);
            var b = api.coord([api.value(1), api.value(3)]);
            return {
                type: 'rect',
                shape: { x: a[0], y: a[1], width: b[0] - a[0], height: b[1] - a[1] },
                style: { fill: 'rgba(252,146,69,0.36)' }
            };
        }
    }, {
        // 卖出阈值线，两端接到左右坐标轴
        type: 'custom', yAxisIndex: 0, z: 6, silent: true, clip: false,
        data: [[2011.584, 2024.286, sellLevel]],
        encode: { x: [0, 1], y: 2 },
        renderItem: function(params, api) {
            var a = api.coord([api.value(0), api.value(2)]);
            var b = api.coord([api.value(1), api.value(2)]);
            return {
                type: 'line',
                shape: { x1: a[0], y1: a[1], x2: b[0], y2: b[1] },
                style: { stroke: '#fd7a14', lineWidth: 6 }
            };
        }
    }],
    graphic: { elements: [
        // 水印
        { type: 'text', z: 1, silent: true, scaleX: 0.87, x: 773, y: 665,
          style: { text: 'CryptoQuant', fill: '#e4e4ec', font: '500 88px Inter', textVerticalAlign: 'middle' } },
        sellText(347, 196), sellText(444, 192.5), sellText(958, 196), sellText(1044, 196), sellText(1508, 192.5),
        // 底部说明
        { type: 'line', silent: true, shape: { x1: 813, y1: 1239, x2: 813, y2: 1259 }, style: { stroke: '#aaa', lineWidth: 1 } },
        { type: 'polygon', silent: true, shape: { points: [[813.5, 1240.5], [834, 1248], [813.5, 1255.5]] },
          style: { fill: new echarts.graphic.LinearGradient(0, 0, 1, 0, [{ offset: 0, color: '#a81218' }, { offset: 0.6, color: '#d81c22' }, { offset: 1, color: '#c8161d' }]) } },
        { type: 'text', silent: true, style: { x: 842, y: 1248, text: 'Daily on-chain analysis: https://x.com/AxelAdlerJr', fill: '#7c7c7c', font: '20px "Liberation Sans"', textVerticalAlign: 'middle' } },
        // logo
        { type: 'sector', silent: true, shape: { cx: 1745, cy: 1220, r: 13.5, r0: 0, startAngle: Math.PI / 2, endAngle: Math.PI * 1.5, clockwise: true }, style: { fill: '#1e1e22' } },
        { type: 'sector', silent: true, shape: { cx: 1760, cy: 1220, r: 13.5, r0: 0, startAngle: 1.43, endAngle: 6.58, clockwise: true }, style: { fill: '#1e1e22' } },
        { type: 'text', silent: true, style: { x: 1787, y: 1219, text: 'CryptoQuant', fill: '#1e1e22', font: '500 34.4px Inter', textVerticalAlign: 'middle' } },
        { type: 'text', silent: true, style: { x: 2000, y: 1255, text: '\u00a9 CryptoQuant All rights reserved.', fill: '#9a9a9a', font: '12.8px Inter', textAlign: 'right', textVerticalAlign: 'middle' } }
    ] }
};
myChart.setOption(option);
</script>
</body>
</html>
